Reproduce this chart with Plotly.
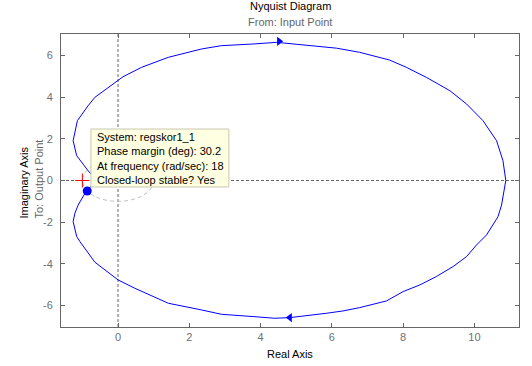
import plotly.graph_objects as go

# ---- data ----
# positive-frequency branch (lower half), from w=0 towards w=inf
lower_re = [10.88, 10.82, 10.76, 10.66, 10.52, 10.34, 10.06, 9.78, 9.40, 8.93, 8.47, 8.00, 7.53,
            6.78, 6.31, 5.85, 4.82, 4.40, 3.79, 3.28, 2.90, 2.34, 1.41, 0.47, 0.00, -0.65, -0.84,
            -1.07, -1.16, -1.26, -1.21, -1.12, -0.875, -0.70, 0.00]
lower_im = [0.00, -0.54, -1.18, -1.74, -2.13, -2.61, -3.09, -3.65, -4.13, -4.61, -5.01, -5.33, -5.78,
            -6.10, -6.26, -6.37, -6.58, -6.61, -6.53, -6.45, -6.42, -6.21, -5.89, -5.17, -4.77, -3.92, -3.49,
            -2.93, -2.69, -1.97, -1.57, -1.18, -0.46, -0.20, 0.00]
# negative-frequency branch (upper half)
upper_re = [10.88, 10.80, 10.62, 10.24, 9.78, 9.31, 8.65, 8.09, 7.62, 6.78, 6.13, 5.19, 4.45, 3.79,
            3.28, 2.90, 2.34, 1.41, 0.66, 0.14, -0.65, -0.84, -1.14, -1.26, -1.16, -1.02, -0.84,
            -0.70, 0.00]
upper_im = [0.00, 0.95, 1.91, 2.87, 3.67, 4.31, 4.95, 5.43, 5.78, 6.15, 6.35, 6.50, 6.63, 6.55,
            6.51, 6.47, 6.31, 5.91, 5.43, 4.98, 3.99, 3.59, 2.87, 1.91, 1.19, 0.87, 0.47,
            0.20, 0.00]

arrow_up_re, arrow_up_im = [4.52], [6.68]
arrow_dn_re, arrow_dn_im = [4.82], [-6.58]
pm_point_re, pm_point_im = [-0.864], [-0.503]
crit_re, crit_im = [-1.0], [0.0]

x_tickvals = [0, 2, 4, 6, 8, 10]
x_ticktext = ["0", "2", "4", "6", "8", "10"]
y_tickvals = [-6, -4, -2, 0, 2, 4, 6]
y_ticktext = ["-6", "-4", "-2", "0", "2", "4", "6"]

tooltip_lines = ["System: regskor1_1", "Phase margin (deg): 30.2",
                 "At frequency (rad/sec): 18", "Closed-loop stable? Yes"]

XR = [-1.6, 11.25]
YR = [-7.03, 7.03]
FONT = "Liberation Sans, Arial, sans-serif"
AXC = "#666666"
BLUE = "#0000ff"

fig = go.Figure()
fig.add_trace(go.Scatter(x=lower_re, y=lower_im, mode="lines", line=dict(color=BLUE, width=1)))
fig.add_trace(go.Scatter(x=upper_re, y=upper_im, mode="lines", line=dict(color=BLUE, width=1)))
fig.add_trace(go.Scatter(x=arrow_up_re, y=arrow_up_im, mode="markers",
                         marker=dict(symbol="triangle-right", size=8, color=BLUE)))
fig.add_trace(go.Scatter(x=arrow_dn_re, y=arrow_dn_im, mode="markers",
                         marker=dict(symbol="triangle-left", size=8, color=BLUE)))
fig.add_trace(go.Scatter(x=pm_point_re, y=pm_point_im, mode="markers",
                         marker=dict(symbol="circle", size=9, color=BLUE)))
fig.add_trace(go.Scatter(x=crit_re, y=crit_im, mode="markers",
                         marker=dict(symbol="cross-thin", size=10,
                                     line=dict(color="#ff0000", width=1))))

shapes = [
    dict(type="line", xref="x", yref="paper", x0=0, x1=0, y0=0, y1=1,
         line=dict(color=AXC, width=1, dash="3px,2px"), layer="below"),
    dict(type="line", xref="paper", yref="y", x0=0, x1=1, y0=0, y1=0,
         line=dict(color=AXC, width=1, dash="3px,2px"), layer="below"),
    dict(type="circle", xref="x", yref="y", x0=-1, x1=1, y0=-1, y1=1,
         line=dict(color="#c0c0c0", width=1, dash="4px,3px"), layer="below"),
    dict(type="rect", xref="x", yref="y", x0=-0.76, x1=3.11, y0=-0.31, y1=2.47,
         fillcolor="#ffffe1", line=dict(color="#c8c8b0", width=1), layer="above"),
]

annotations = [
    dict(text="Nyquist Diagram", xref="paper", yref="paper", x=0.5, y=1, yanchor="middle",
         yshift=28, showarrow=False, font=dict(size=11, color="#000000", family=FONT)),
    dict(text="From: Input Point", xref="paper", yref="paper", x=0.5, y=1, yanchor="middle",
         yshift=12.5, showarrow=False, font=dict(size=11, color="#666666", family=FONT)),
    dict(text="Real Axis", xref="paper", yref="paper", x=0.5, y=0, yanchor="middle",
         yshift=-27, showarrow=False, font=dict(size=11, color="#000000", family=FONT)),
    dict(text="Imaginary Axis", xref="paper", yref="paper", x=0, y=0.5, xanchor="center",
         yanchor="middle", xshift=-38, yshift=-2, textangle=-90, showarrow=False,
         font=dict(size=11, color="#000000", family=FONT)),
    dict(text="To: Output Point", xref="paper", yref="paper", x=0, y=0.5, xanchor="center",
         yanchor="middle", xshift=-23, yshift=1, textangle=-90, showarrow=False,
         font=dict(size=11, color="#666666", family=FONT)),
    dict(text="<br>".join(tooltip_lines), xref="x", yref="y", x=-0.66, y=2.47,
         xanchor="left", yanchor="top", align="left", showarrow=False,
         font=dict(size=11, color="#000000", family=FONT)),
]

axis_common = dict(showline=True, mirror="ticks", linecolor=AXC, linewidth=1,
                   ticks="inside", ticklen=4, tickcolor=AXC, showgrid=False, zeroline=False,
                   automargin=False,
                   tickfont=dict(size=11, color="#707070", family=FONT), fixedrange=True)

fig.update_layout(
    width=532, height=366,
    margin=dict(l=61, r=13, t=34, b=39, autoexpand=False),
    paper_bgcolor="#ffffff", plot_bgcolor="#ffffff",
    showlegend=False,
    xaxis=dict(range=XR, tickvals=x_tickvals, ticktext=x_ticktext, ticklabelstandoff=0, **axis_common),
    yaxis=dict(range=YR, tickvals=y_tickvals, ticktext=y_ticktext, ticklabelstandoff=5, **axis_common),
    shapes=shapes,
    annotations=annotations,
    font=dict(family=FONT),
)

fig.write_html("out.html", config={"displayModeBar": False},
               post_script="document.body.style.margin='0';document.body.style.padding='0';"
                           "document.body.style.overflow='hidden';")
